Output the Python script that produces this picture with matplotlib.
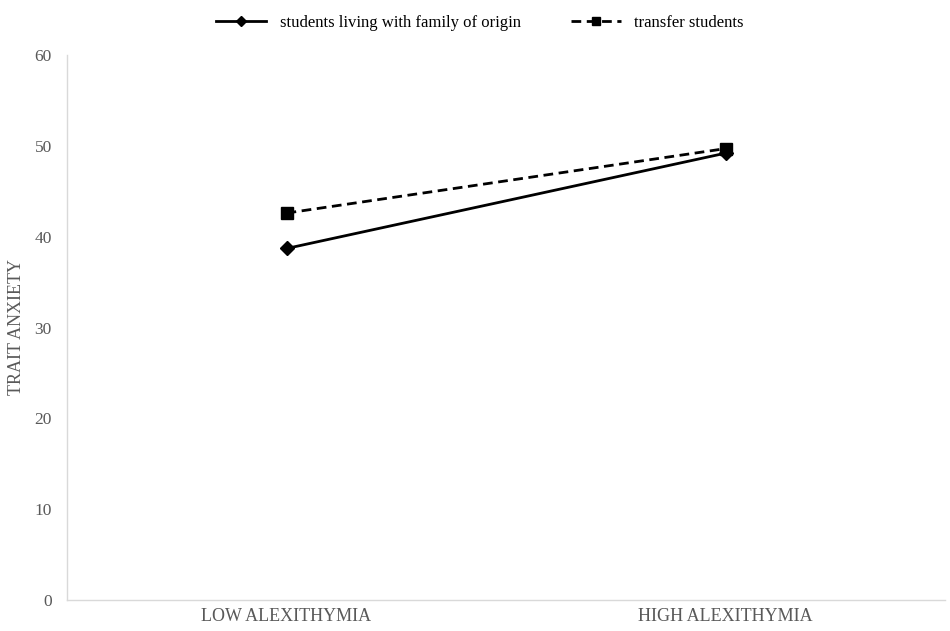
import matplotlib
matplotlib.use("Agg")
import matplotlib.pyplot as plt

categories = ["LOW ALEXITHYMIA", "HIGH ALEXITHYMIA"]
family_origin = [38.7, 49.2]
transfer = [42.6, 49.7]
yticks = [0, 10, 20, 30, 40, 50, 60]

plt.rcParams['font.family'] = ['Liberation Serif', 'DejaVu Serif']

fig = plt.figure(figsize=(9.5, 6.31), dpi=100)
ax = fig.add_axes([0.0705, 0.0491, 0.9245, 0.8637])

x = [0.25, 0.75]
l1, = ax.plot(x, family_origin, color='black', lw=2, marker='D', markersize=7,
              label='students living with family of origin')
l2, = ax.plot(x, transfer, color='black', lw=2, ls=(0, (3.5, 2)), marker='s', markersize=8,
              label='transfer students')

ax.set_xlim(0, 1)
ax.set_ylim(0, 60)
ax.set_xticks(x)
ax.set_xticklabels(categories, color='#595959', fontsize=13)
ax.set_yticks(yticks)
ax.set_yticklabels([str(v) for v in yticks], color='#595959', fontsize=12.5)
ax.tick_params(axis='both', length=0)
ax.tick_params(axis='x', pad=6)
ax.tick_params(axis='y', pad=11)
for s in ['top', 'right']:
    ax.spines[s].set_visible(False)
ax.spines['left'].set_color('#d9d9d9')
ax.spines['bottom'].set_color('#d9d9d9')
ax.spines['left'].set_linewidth(1)
ax.spines['bottom'].set_linewidth(1)
fig.text(17 / 950, 1 - 327 / 631, 'TRAIT ANXIETY', color='#595959', fontsize=13,
         rotation=90, ha='center', va='center')

fig.legend(handles=[l1, l2], loc='upper center', bbox_to_anchor=(0.505, 1.0), ncol=2,
           frameon=False, fontsize=12, handlelength=3, columnspacing=3,
           markerscale=0.8)

fig.savefig('out.png', dpi=100, facecolor='white')
